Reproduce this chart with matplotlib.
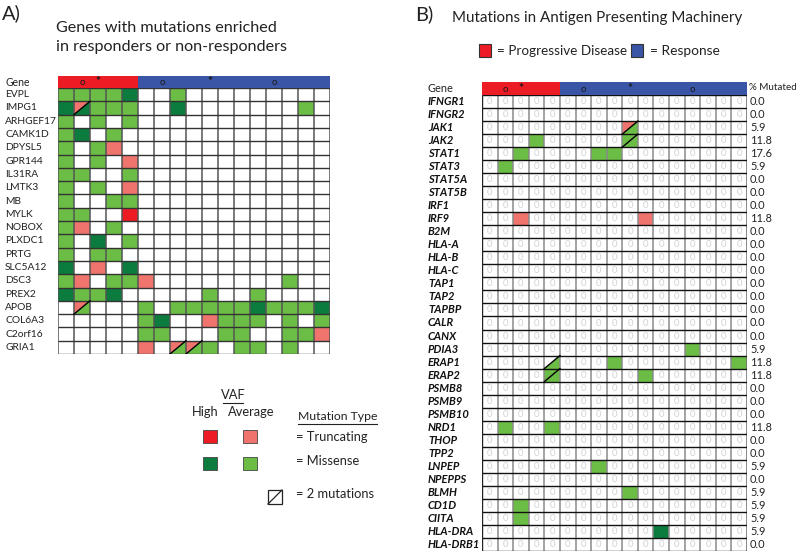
import matplotlib
matplotlib.use("Agg")
import matplotlib.pyplot as plt
from matplotlib.patches import Rectangle, Polygon
from matplotlib import transforms

plt.rcParams['font.family'] = ['Lato', 'DejaVu Sans']

# ---------------- data ----------------
left_genes = ["EVPL", "IMPG1", "ARHGEF17", "CAMK1D", "DPYSL5", "GPR144", "IL31RA",
              "LMTK3", "MB", "MYLK", "NOBOX", "PLXDC1", "PRTG", "SLC5A12", "DSC3",
              "PREX2", "APOB", "COL6A3", "C2orf16", "GRIA1"]
# codes: . none, g missense avg, G missense high, p truncating avg, R truncating high,
#        s split trunc-avg/missense-avg, S split trunc-avg/missense-high,
#        d split missense/missense, t single lower triangle missense
left_rows = [
    "ggggG" + "..g.........",
    "GSggg" + "..G.......g.",
    "g.g.g" + "............",
    "gG.g." + "............",
    "g.gp." + "............",
    "g.g.p" + "............",
    "gg..g" + "............",
    "g.g.p" + "............",
    "g..gg" + "............",
    "gg..R" + "............",
    "gp.g." + "............",
    "g.G.g" + "............",
    "g.gg." + "............",
    "G.p.G" + "............",
    "gp.gg" + "p........g..",
    "GggG." + "....g..g....",
    ".s..." + "g.gggggGgggG",
    "....." + "gG..pggg.g.g",
    "....." + "gg...gg..ggp",
    "....." + "p.ssg.gg.g..",
]
n_pd = 5      # progressive disease patients
n_resp = 12   # responders

right_genes = ["IFNGR1", "IFNGR2", "JAK1", "JAK2", "STAT1", "STAT3", "STAT5A", "STAT5B",
               "IRF1", "IRF9", "B2M", "HLA-A", "HLA-B", "HLA-C", "TAP1", "TAP2", "TAPBP",
               "CALR", "CANX", "PDIA3", "ERAP1", "ERAP2", "PSMB8", "PSMB9", "PSMB10",
               "NRD1", "THOP", "TPP2", "LNPEP", "NPEPPS", "BLMH", "CD1D", "CIITA",
               "HLA-DRA", "HLA-DRB1"]
right_rows = [
    ".................",
    ".................",
    ".........s.......",
    "...g.....d.......",
    "..g....gg........",
    ".g...............",
    ".................",
    ".................",
    ".................",
    "..p.......p......",
    ".................",
    ".................",
    ".................",
    ".................",
    ".................",
    ".................",
    ".................",
    ".................",
    ".................",
    ".............g...",
    "....t...g.......g",
    "....d.....g......",
    ".................",
    ".................",
    ".................",
    ".g..g............",
    ".................",
    ".................",
    ".......g.........",
    ".................",
    ".........g.......",
    "..g..............",
    "..g..............",
    "...........G.....",
    ".................",
]
pct_mutated = ["0.0", "0.0", "5.9", "11.8", "17.6", "5.9", "0.0", "0.0", "0.0", "11.8",
               "0.0", "0.0", "0.0", "0.0", "0.0", "0.0", "0.0", "0.0", "0.0", "5.9",
               "11.8", "11.8", "0.0", "0.0", "0.0", "11.8", "0.0", "0.0", "5.9", "0.0",
               "5.9", "5.9", "5.9", "5.9", "0.0"]

header_marks = [(1.5, "o"), (2.5, "*"), (6.5, "o"), (9.5, "*"), (13.5, "o")]

# ---------------- style ----------------
C_G = "#6cbd45"
C_DG = "#0b7c3e"
C_R = "#ed1c24"
C_P = "#f0746e"
C_RED_H = "#ec1c24"
C_BLUE_H = "#3a55a5"
TXT = "#222222"

W, H = 800, 554
fig = plt.figure(figsize=(W / 100, H / 100), dpi=100)


def fr(x0, y0, x1, y1):
    return [x0 / W, 1 - y1 / H, (x1 - x0) / W, (y1 - y0) / H]


def draw_cell(ax, j, i, code):
    if code == ".":
        return False
    solid = {"g": C_G, "G": C_DG, "p": C_P, "R": C_R}
    if code in solid:
        ax.add_patch(Rectangle((j, i), 1, 1, facecolor=solid[code], edgecolor="none", zorder=1))
        return True
    ul = [(j, i + 1), (j, i), (j + 1, i)]
    lr = [(j, i + 1), (j + 1, i + 1), (j + 1, i)]
    up_col, lo_col = {"s": (C_P, C_G), "S": (C_P, C_DG), "d": (C_G, C_G), "t": (None, C_G)}[code]
    if up_col:
        ax.add_patch(Polygon(ul, closed=True, facecolor=up_col, edgecolor="none", zorder=1))
    ax.add_patch(Polygon(lr, closed=True, facecolor=lo_col, edgecolor="none", zorder=1))
    ax.plot([j, j + 1], [i + 1, i], color="black", lw=1.0, zorder=3)
    return True


def draw_header(rect, ncol):
    hax = fig.add_axes(rect)
    hax.set_xlim(0, ncol)
    hax.set_ylim(1, 0)
    hax.axis("off")
    hax.add_patch(Rectangle((0, 0), n_pd, 1, facecolor=C_RED_H, edgecolor="none"))
    hax.add_patch(Rectangle((n_pd, 0), n_resp, 1, facecolor=C_BLUE_H, edgecolor="none"))
    for x, m in header_marks:
        if m == "o":
            hax.text(x, 0.55, "o", ha="center", va="center", fontsize=7, color="#1a1a1a")
        else:
            hax.text(x, 0.5, "*", ha="center", va="center", fontsize=8.5, color="#1a1a1a",
                     fontweight="bold")
    return hax


def draw_grid(ax, rows, vcol, hcol, zeros=False):
    nrow, ncol = len(rows), len(rows[0])
    ax.set_xlim(0, ncol)
    ax.set_ylim(nrow, 0)
    ax.axis("off")
    for i, r in enumerate(rows):
        for j, c in enumerate(r):
            filled = draw_cell(ax, j, i, c)
            if zeros and not filled:
                ax.text(j + 0.5, i + 0.5, "0", ha="center", va="center",
                        fontsize=6.8, color="#d2d2d2", zorder=0.5)
    ax.vlines(range(ncol + 1), 0, nrow, colors=vcol, lw=1.1, zorder=2)
    ax.hlines(range(nrow + 1), 0, ncol, colors=hcol, lw=1.0, zorder=2)


# ---------------- panel A ----------------
ncol = n_pd + n_resp
draw_header(fr(58, 76, 330, 88), ncol)
axL = fig.add_axes(fr(58, 88, 330, 354))
draw_grid(axL, left_rows, "#555555", "#333333")
trL = transforms.blended_transform_factory(fig.transFigure, axL.transData)
for i, g in enumerate(left_genes):
    axL.text(5 / W, i + 0.5, g, transform=trL, ha="left", va="center", fontsize=7.4, color=TXT)
fig.text(5 / W, 1 - 82 / H, "Gene", ha="left", va="center", fontsize=7.6, color=TXT)

fig.text(2 / W, 1 - 13 / H, "A)", ha="left", va="center", fontsize=14.5, color=TXT)
fig.text(56 / W, 1 - 28 / H, "Genes with mutations enriched", ha="left", va="center",
         fontsize=11.6, color=TXT)
fig.text(56 / W, 1 - 47 / H, "in responders or non-responders", ha="left", va="center",
         fontsize=11.6, color=TXT)

# ---------------- panel B ----------------
draw_header(fr(482, 82, 747, 95), ncol)
axR = fig.add_axes(fr(482, 95, 747, 551))
draw_grid(axR, right_rows, "#8a8a8a", "#111111", zeros=True)
axR.vlines([0, ncol], 0, len(right_rows), colors="#222222", lw=1.0, zorder=2)
trR = transforms.blended_transform_factory(fig.transFigure, axR.transData)
for i, g in enumerate(right_genes):
    axR.text(428 / W, i + 0.5, g, transform=trR, ha="left", va="center", fontsize=8,
             fontweight="bold", fontstyle="italic", color="#111111")
    axR.text(750 / W, i + 0.5, pct_mutated[i], transform=trR, ha="left", va="center",
             fontsize=7.9, color=TXT)
fig.text(428 / W, 1 - 88 / H, "Gene", ha="left", va="center", fontsize=7.9, color=TXT)
fig.text(749 / W, 1 - 88 / H, "% Mutated", ha="left", va="center", fontsize=7.1, color=TXT)

fig.text(415 / W, 1 - 14 / H, "B)", ha="left", va="center", fontsize=14.5, color=TXT)
fig.text(597 / W, 1 - 18 / H, "Mutations in Antigen Presenting Machinery", ha="center",
         va="center", fontsize=10.9, color=TXT)

# ---------------- legends ----------------
lax = fig.add_axes([0, 0, 1, 1])
lax.set_xlim(0, W)
lax.set_ylim(H, 0)
lax.axis("off")
lax.add_patch(Rectangle((479, 44), 12, 13, facecolor=C_R, edgecolor="#333333", lw=0.8))
lax.text(497, 51, "= Progressive Disease", ha="left", va="center", fontsize=9.7, color=TXT)
lax.add_patch(Rectangle((631, 44), 12, 13, facecolor=C_BLUE_H, edgecolor="#333333", lw=0.8))
lax.text(650, 51, "= Response", ha="left", va="center", fontsize=9.9, color=TXT)

lax.text(233, 395, "VAF", ha="center", va="center", fontsize=9.3, color=TXT)
lax.plot([223, 243], [403, 403], color=TXT, lw=0.8)
lax.text(205, 412, "High", ha="center", va="center", fontsize=9.3, color=TXT)
lax.text(251, 412, "Average", ha="center", va="center", fontsize=9.3, color=TXT)
lax.text(298, 416, "Mutation Type", ha="left", va="center", fontsize=8.8, color=TXT)
lax.plot([298, 377], [424, 424], color=TXT, lw=0.8)
for (x, y, c) in [(203, 430, C_R), (243, 430, C_P), (203, 457, C_DG), (243, 457, C_G)]:
    lax.add_patch(Rectangle((x, y), 14, 13, facecolor=c, edgecolor="#444444", lw=0.6))
lax.text(296, 437, "= Truncating", ha="left", va="center", fontsize=9.3, color=TXT)
lax.text(296, 461, "= Missense", ha="left", va="center", fontsize=9.3, color=TXT)
lax.add_patch(Rectangle((268, 490), 14, 14, facecolor="white", edgecolor=TXT, lw=0.9))
lax.plot([268, 282], [504, 490], color=TXT, lw=0.9)
lax.text(296, 494, "= 2 mutations", ha="left", va="center", fontsize=9.3, color=TXT)

fig.savefig("out.png", dpi=100)
